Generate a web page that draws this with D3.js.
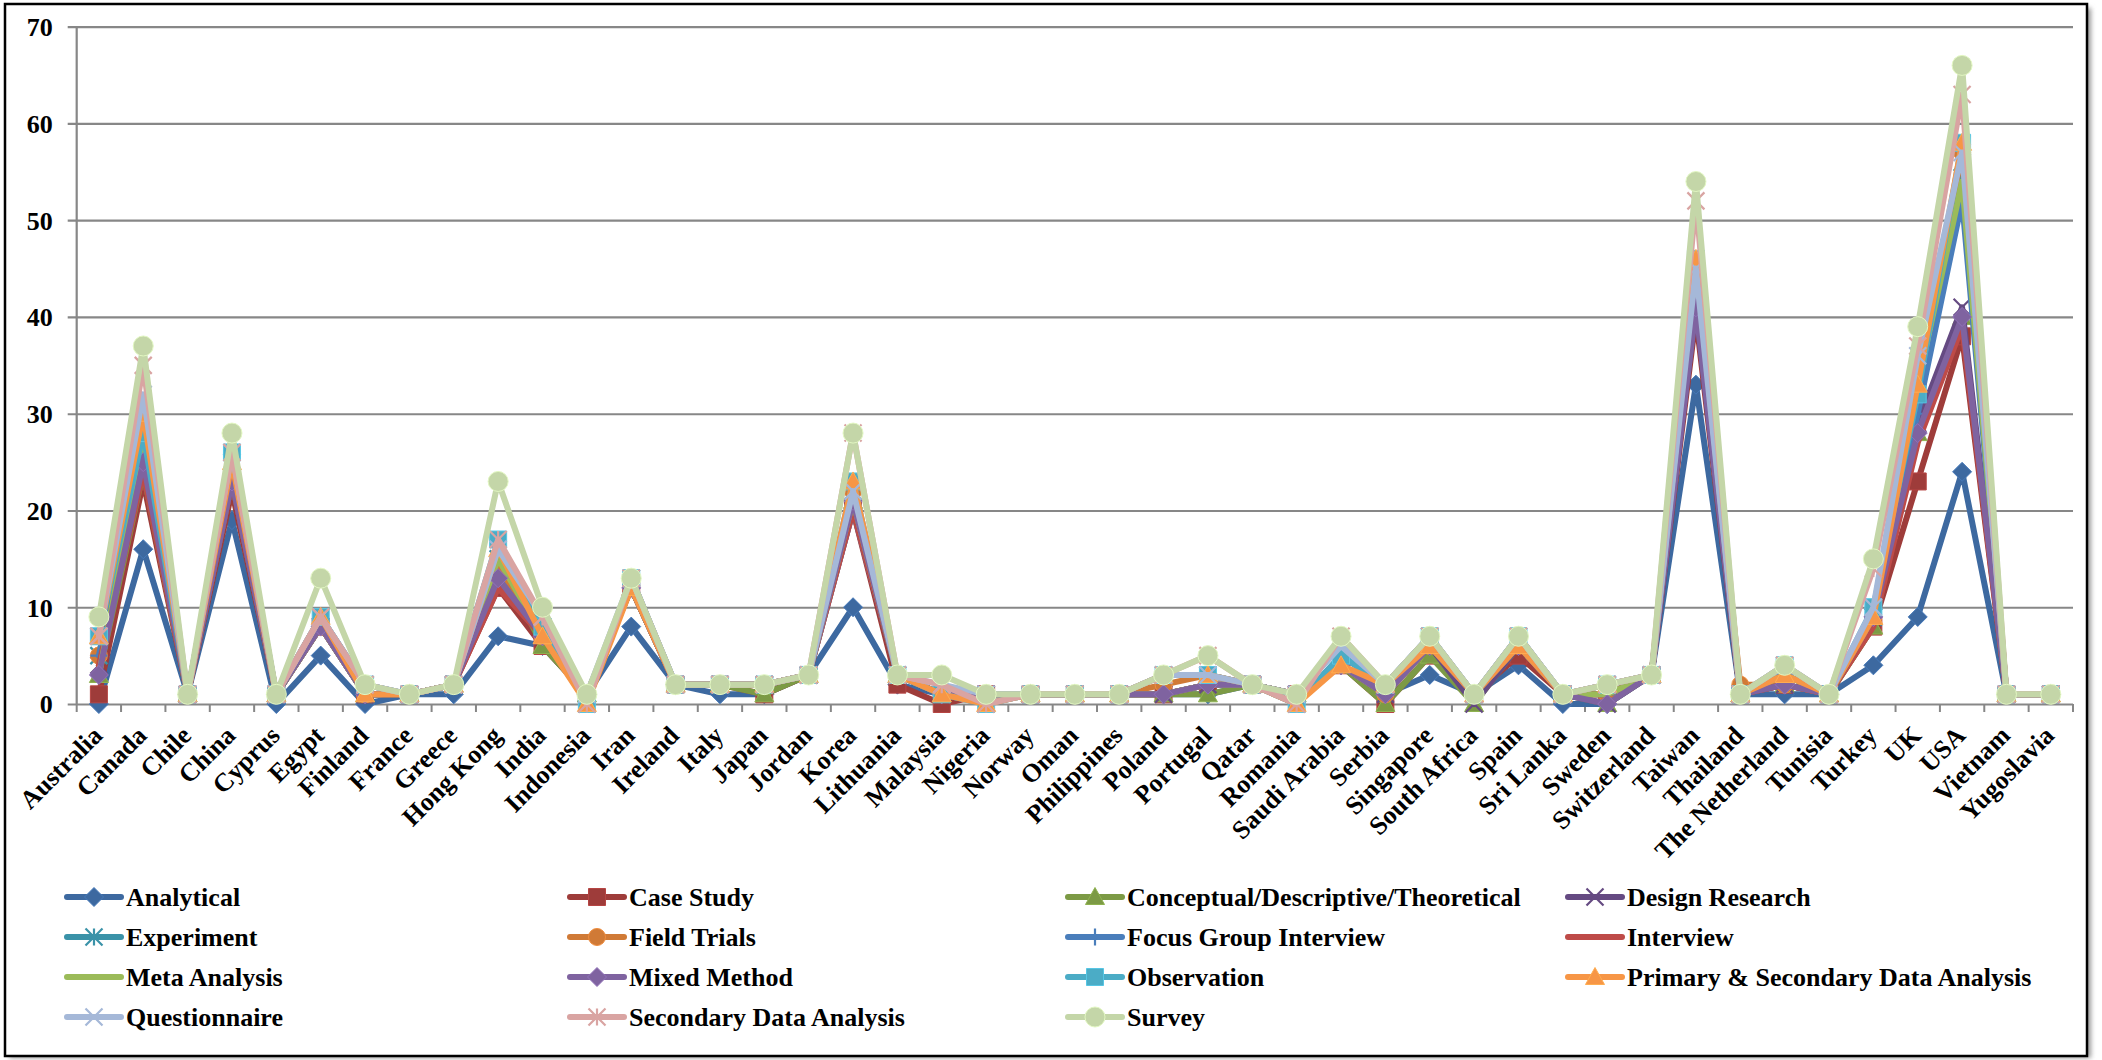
<!DOCTYPE html>
<html>
<head>
<meta charset="utf-8">
<script src="https://cdn.jsdelivr.net/npm/d3@7"></script>
<style>
  body { margin: 0; background: #fff; }
  text { font-family: "Liberation Serif", "Times New Roman", serif; font-weight: bold; fill: #000; }
</style>
</head>
<body>
<svg id="chart"></svg>
<script>
// categories (countries)
var countries = ["Australia","Canada","Chile","China","Cyprus","Egypt","Finland","France","Greece","Hong Kong",
  "India","Indonesia","Iran","Ireland","Italy","Japan","Jordan","Korea","Lithuania","Malaysia",
  "Nigeria","Norway","Oman","Philippines","Poland","Portugal","Qatar","Romania","Saudi Arabia","Serbia",
  "Singapore","South Africa","Spain","Sri Lanka","Sweden","Switzerland","Taiwan","Thailand","The Netherland","Tunisia",
  "Turkey","UK","USA","Vietnam","Yugoslavia"];

// values per research method, in country order
var analytical       = [0,16,1,19,0, 5,0,1,1,7, 6,1,8,2,1, 1,3,10,2,1, 1,1,1,1,1, 1,2,1,4,1, 3,1,4,0,0, 3,33,1,1,1, 4,9,24,1,1];
var caseStudy        = [1,23,1,22,1, 8,1,1,2,12, 6,1,12,2,2, 1,3,20,2,0, 1,1,1,1,1, 2,2,1,4,0, 5,1,5,1,1, 3,40,1,2,1, 8,23,38,1,1];
var conceptual       = [3,24,1,23,1, 8,1,1,2,15, 6,1,12,2,2, 1,3,21,3,1, 1,1,1,1,1, 1,2,1,4,0, 5,0,6,1,0, 3,42,1,2,1, 8,28,40,1,1];
var designResearch   = [4,25,1,23,1, 8,1,1,2,13, 7,1,12,2,2, 2,3,21,3,1, 1,1,1,1,1, 2,2,1,4,1, 6,0,6,1,0, 3,41,1,2,1, 9,29,41,1,1];
var experiment       = [5,27,1,25,1, 9,2,1,2,15, 8,0,13,2,2, 2,3,22,3,1, 0,1,1,1,3, 3,2,0,5,2, 7,1,7,1,2, 3,45,1,3,1, 9,33,56,1,1];
var fieldTrials      = [5,26,1,24,1, 8,1,1,2,14, 7,1,12,2,2, 2,3,22,3,1, 1,1,1,1,2, 3,2,1,4,1, 6,1,6,1,1, 3,45,2,2,1, 9,33,57,1,1];
var focusGroup       = [5,26,1,24,1, 8,1,1,2,13, 7,1,12,2,2, 2,3,20,3,1, 1,1,1,1,1, 2,2,1,4,1, 6,1,6,1,1, 3,44,1,3,1, 9,30,52,1,1];
var interview        = [4,24,1,23,1, 8,1,1,2,12, 7,1,12,2,2, 2,3,20,3,1, 1,1,1,1,1, 2,2,1,4,1, 6,1,6,1,1, 3,42,1,2,1, 8,27,39,1,1];
var metaAnalysis     = [3,27,1,24,1, 8,1,1,2,15, 7,1,12,2,2, 2,3,21,3,1, 1,1,1,1,1, 2,2,1,4,1, 6,1,6,1,1, 3,44,1,3,1, 9,33,54,1,1];
var mixedMethod      = [3,25,1,23,1, 8,1,1,2,13, 7,1,12,2,2, 2,3,21,3,1, 1,1,1,1,1, 2,2,1,4,1, 6,1,6,1,0, 3,41,1,2,1, 9,28,40,1,1];
var observation      = [7,28,1,26,1, 9,2,1,2,17, 8,0,13,2,2, 2,3,23,3,1, 0,1,1,1,3, 3,2,0,5,2, 7,1,7,1,2, 3,46,1,4,1, 10,32,58,1,1];
var primarySecondary = [7,30,1,25,1, 9,1,1,2,16, 7,0,12,2,2, 2,3,23,3,1, 0,1,1,1,3, 3,2,0,4,2, 6,1,6,1,2, 3,46,1,3,1, 9,33,58,1,1];
var questionnaire    = [7,32,1,26,1, 9,2,1,2,16, 9,1,13,2,2, 2,3,22,3,2, 1,1,1,1,3, 3,2,1,6,2, 7,1,7,1,2, 3,45,1,4,1, 10,36,57,1,1];
var secondaryData    = [7,35,1,26,1, 9,2,1,2,17, 9,0,13,2,2, 2,3,28,3,2, 0,1,1,1,3, 5,2,0,7,2, 7,1,7,1,2, 3,52,1,4,1, 14,37,63,1,1];
var survey           = [9,37,1,28,1, 13,2,1,2,23, 10,1,13,2,2, 2,3,28,3,3, 1,1,1,1,3, 5,2,1,7,2, 7,1,7,1,2, 3,54,1,4,1, 15,39,66,1,1];

var seriesNames = ["Analytical","Case Study","Conceptual/Descriptive/Theoretical","Design Research",
  "Experiment","Field Trials","Focus Group Interview","Interview",
  "Meta Analysis","Mixed Method","Observation","Primary & Secondary Data Analysis",
  "Questionnaire","Secondary Data Analysis","Survey"];
var seriesValues = [analytical, caseStudy, conceptual, designResearch, experiment, fieldTrials, focusGroup,
  interview, metaAnalysis, mixedMethod, observation, primarySecondary, questionnaire, secondaryData, survey];
var seriesColors = ["#3D69A0","#9E3C3A","#7C9A45","#654A82","#3A92A8","#D07A36","#4A7EBB","#BE4B48",
  "#9BBB59","#7F63A0","#4BACC6","#F79646","#A5B8D8","#D9A4A2","#C4D6A8"];
var seriesMarkers = ["diamond","square","triangle","x","star","circle","plus","none",
  "none","diamond","square","triangle","x","star","bigcircle"];
var yTicks = [0,10,20,30,40,50,60,70];

var W = 2102, H = 1060;
var plotL = 76.7, plotR = 2073, plotT = 26.7, plotB = 704;

var svg = d3.select("#chart").attr("width", W).attr("height", H);

// frame with a soft shadow
var defs = svg.append("defs");
defs.append("filter").attr("id", "blur").append("feGaussianBlur").attr("stdDeviation", 2.5);
svg.append("rect").attr("x", 9).attr("y", 8).attr("width", 2082).attr("height", 1050)
  .attr("fill", "#999").attr("filter", "url(#blur)");
svg.append("rect").attr("x", 5).attr("y", 4).attr("width", 2082).attr("height", 1052)
  .attr("fill", "#fff").attr("stroke", "#000").attr("stroke-width", 2.5);

var x = d3.scaleBand().domain(countries).range([plotL, plotR]).padding(0);
var y = d3.scaleLinear().domain([0, 70]).range([plotB, plotT]);

// gridlines + y labels
var yAxis = svg.append("g").attr("transform", "translate(" + plotL + ",0)")
  .call(d3.axisLeft(y).tickValues(yTicks).tickSize(-(plotR - plotL)).tickSizeOuter(0).tickPadding(24));
yAxis.select(".domain").remove();
yAxis.selectAll(".tick line").attr("x1", -9).attr("stroke", "#878787").attr("stroke-width", 2.2);
yAxis.selectAll(".tick text").attr("font-size", 26).attr("dy", "0.34em");
svg.append("line").attr("x1", plotL).attr("x2", plotL).attr("y1", plotT).attr("y2", plotB)
  .attr("stroke", "#878787").attr("stroke-width", 2.2);

// x tick marks at band edges
var edges = countries.map(function (c) { return x(c); }).concat([plotR]);
svg.append("g").selectAll("line").data(edges).enter().append("line")
  .attr("x1", function (d) { return d; }).attr("x2", function (d) { return d; })
  .attr("y1", plotB).attr("y2", plotB + 8)
  .attr("stroke", "#878787").attr("stroke-width", 2);

// x labels, rotated
svg.append("g").selectAll("text").data(countries).enter().append("text")
  .attr("font-size", 26)
  .attr("text-anchor", "end")
  .attr("transform", function (d) {
    var cx = x(d) + x.bandwidth() / 2 + 5;
    return "translate(" + cx + ",737) rotate(-45)";
  })
  .text(function (d) { return d; });

function markerPath(type, s) {
  var h = s / 2;
  switch (type) {
    case "diamond": return "M0," + (-h - 1) + "L" + (h + 1) + ",0L0," + (h + 1) + "L" + (-h - 1) + ",0Z";
    case "square": return "M" + (-h) + "," + (-h) + "h" + s + "v" + s + "h" + (-s) + "Z";
    case "triangle": return "M0," + (-h - 1) + "L" + (h + 1) + "," + (h - 1) + "L" + (-h - 1) + "," + (h - 1) + "Z";
    case "x": return "M" + (-h) + "," + (-h) + "L" + h + "," + h + "M" + h + "," + (-h) + "L" + (-h) + "," + h;
    case "star": return "M" + (-h) + "," + (-h) + "L" + h + "," + h + "M" + h + "," + (-h) + "L" + (-h) + "," + h + "M0," + (-h) + "L0," + h;
    case "plus": return "M" + (-h) + ",0L" + h + ",0M0," + (-h) + "L0," + h;
    case "circle": return d3.arc()({innerRadius: 0, outerRadius: h, startAngle: 0, endAngle: 2 * Math.PI});
    case "bigcircle": return d3.arc()({innerRadius: 0, outerRadius: h + 1.5, startAngle: 0, endAngle: 2 * Math.PI});
  }
  return null;
}
function isStroked(type) { return type === "x" || type === "star" || type === "plus"; }

function drawMarker(g, type, color, cx, cy) {
  if (type === "none") return;
  var p = g.append("path").attr("d", markerPath(type, 17))
    .attr("transform", "translate(" + cx + "," + cy + ")");
  if (isStroked(type)) {
    p.attr("fill", "none").attr("stroke", color).attr("stroke-width", 2.2);
  } else {
    p.attr("fill", color).attr("stroke", d3.color(color).brighter(0.4)).attr("stroke-width", 1);
  }
}

var line = d3.line()
  .x(function (d, i) { return x(countries[i]) + x.bandwidth() / 2; })
  .y(function (d) { return y(d); });

var plot = svg.append("g");
seriesValues.forEach(function (vals, k) {
  var g = plot.append("g");
  g.append("path").datum(vals).attr("d", line)
    .attr("fill", "none").attr("stroke", seriesColors[k])
    .attr("stroke-width", 6).attr("stroke-linejoin", "round").attr("stroke-linecap", "round");
  vals.forEach(function (v, i) {
    drawMarker(g, seriesMarkers[k], seriesColors[k], x(countries[i]) + x.bandwidth() / 2, y(v));
  });
});

// legend, 4 columns
var colX = [67, 570, 1068, 1568];
var rowY = [897, 937, 977, 1017];
var legend = svg.append("g");
seriesNames.forEach(function (name, k) {
  var lx = colX[k % 4], ly = rowY[Math.floor(k / 4)];
  var item = legend.append("g");
  item.append("line").attr("x1", lx).attr("x2", lx + 54).attr("y1", ly).attr("y2", ly)
    .attr("stroke", seriesColors[k]).attr("stroke-width", 6).attr("stroke-linecap", "round");
  drawMarker(item, seriesMarkers[k], seriesColors[k], lx + 27, ly);
  item.append("text").attr("x", lx + 59).attr("y", ly).attr("dy", "0.34em")
    .attr("font-size", 26).text(name);
});
</script>
</body>
</html>
